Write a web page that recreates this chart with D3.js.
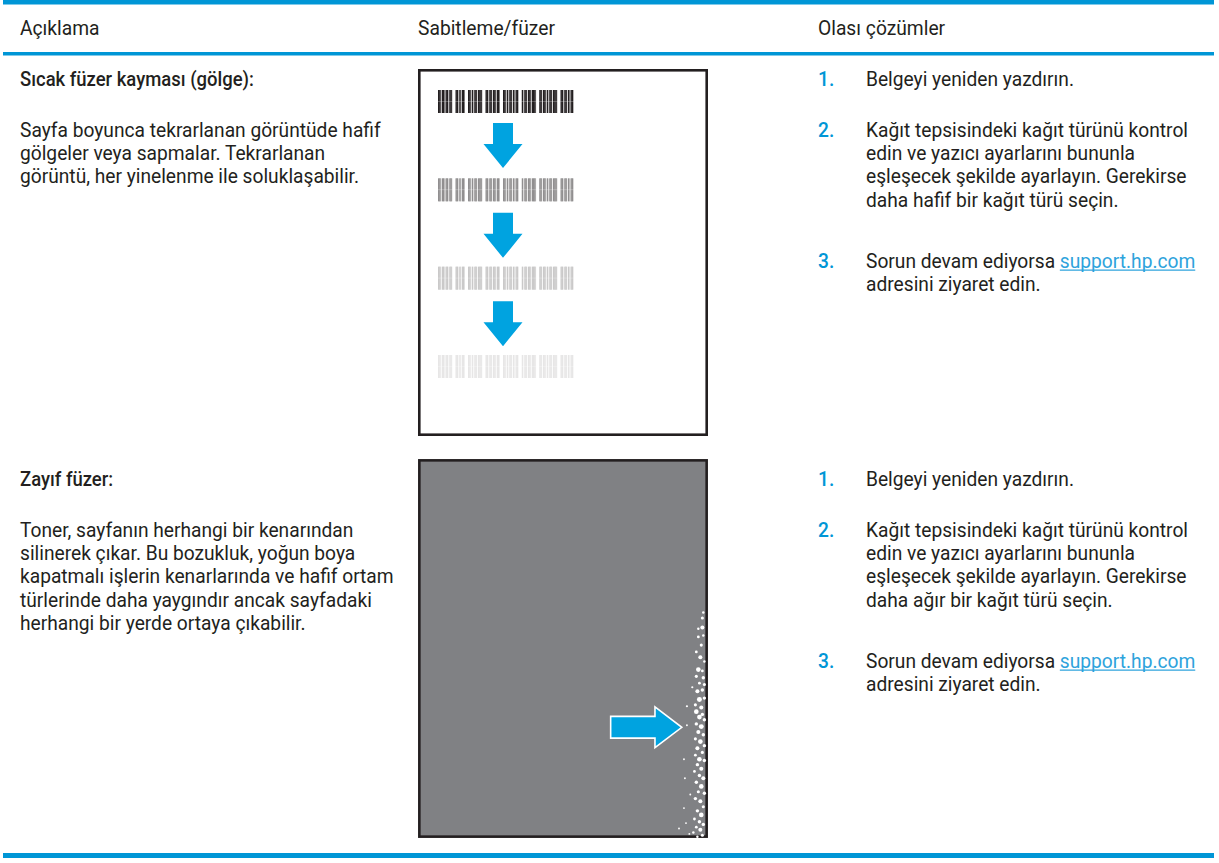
<!DOCTYPE html>
<html><head><meta charset="utf-8">
<script src="https://cdn.jsdelivr.net/npm/d3@7"></script>
<style>html,body{margin:0;padding:0;background:#fff;} text{white-space:pre;}</style>
</head><body>
<svg id="chart"></svg>
<script>
// ---------- data ----------
const headers = ["Açıklama", "Sabitleme/füzer", "Olası çözümler"];
const rowTitles = ["Sıcak füzer kayması (gölge):", "Zayıf füzer:"];
const rowDescriptions = [
  ["Sayfa boyunca tekrarlanan görüntüde hafif", "gölgeler veya sapmalar. Tekrarlanan", "görüntü, her yinelenme ile soluklaşabilir."],
  ["Toner, sayfanın herhangi bir kenarından", "silinerek çıkar. Bu bozukluk, yoğun boya", "kapatmalı işlerin kenarlarında ve hafif ortam", "türlerinde daha yaygındır ancak sayfadaki", "herhangi bir yerde ortaya çıkabilir."]
];
const solutionsRow1 = [
  ["Belgeyi yeniden yazdırın."],
  ["Kağıt tepsisindeki kağıt türünü kontrol", "edin ve yazıcı ayarlarını bununla", "eşleşecek şekilde ayarlayın. Gerekirse", "daha hafif bir kağıt türü seçin."],
  ["Sorun devam ediyorsa |support.hp.com", "adresini ziyaret edin."]
];
const solutionsRow2 = [
  ["Belgeyi yeniden yazdırın."],
  ["Kağıt tepsisindeki kağıt türünü kontrol", "edin ve yazıcı ayarlarını bununla", "eşleşecek şekilde ayarlayın. Gerekirse", "daha ağır bir kağıt türü seçin."],
  ["Sorun devam ediyorsa |support.hp.com", "adresini ziyaret edin."]
];
const solutions = [solutionsRow1, solutionsRow2];
// barcode groups (1 = bar module) and fade level of each repeated image
const barcodeGroups = ["11011011011", "1101011", "11010110111", "11011011011", "110101101011", "10110110111", "11011010110111", "1101101011"];
const barcodeFade = [1.0, 0.5, 0.24, 0.11];
// white speckles on the weak-fuser page: [mm from left, mm from top, radius]
const speckles = [
 [212.5,113,0.8],[211.8,117,1.0],[211.8,124,1.3],[208.8,125,0.8],[208.8,131,0.9],[212.5,130,0.8],[211,137,1.0],[207.3,142,0.9],
 [210.3,146,1.3],[213.3,149,0.8],[208.8,155,1.5],[211.8,156,0.9],[207.3,160,1.0],[212.5,161,1.1],[209.6,165,0.9],[213.3,166,1.0],
 [204.3,168,0.7],[211.8,170,1.1],[208.1,171,1.3],[209.6,177,1.6],[213.3,176,1.1],[206.6,181,1.0],[211,183,1.3],[207.3,186,1.5],
 [211.8,188,1.1],[200.3,182,0.7],[209.6,190,1.5],[213.3,192,1.1],[207.3,195,1.1],[211,197,1.6],[200.3,196,0.6],[208.8,201,1.3],
 [212.5,203,1.1],[206.6,206,1.0],[210.3,208,1.5],[213.3,211,1.1],[208.1,213,1.3],[211.8,216,1.0],[206.6,218,0.9],[209.6,221,1.5],
 [198.1,221,0.6],[213.3,222,1.1],[208.1,225,1.1],[211,228,1.3],[205.9,230,0.9],[209.6,233,1.1],[212.5,235,1.3],[198.8,235,0.6],
 [207.3,238,1.1],[211,241,1.5],[208.8,245,1.0],[202.8,247,0.6],[213.3,246,1.1],[206.6,250,1.1],[210.3,252,1.3],[212.5,256,1.0],
 [198.1,257,0.6],[208.1,259,1.1],[211,262,1.5],[205.9,265,0.9],[209.6,267,1.1],[199.6,268,0.6],[212.5,269,1.1],[207.3,271,0.9],
 [194.4,272,0.6],[210.3,273,1.3],[205.1,275,0.8],[211.8,277,1.0],[208.1,278,0.8],[202.1,276,0.6]
];

// ---------- setup ----------
const W = 1219, H = 863;
const FONT = "Roboto, 'Noto Sans', sans-serif";
const BLUE = "#0096d6", TEXT = "#231f20", LINK = "#2ea3dc";
const svg = d3.select("#chart").attr("width", W).attr("height", H)
  .attr("font-family", FONT);

function measure(sample, size, weight) {
  const t = svg.append("text").attr("font-size", size).attr("font-weight", weight).text(sample);
  const w = t.node().getComputedTextLength(); t.remove();
  return w;
}
const BODY = 19.5, HEAD = 19.5, TITLE = 19.5;
const bodySX = 361 / measure(rowDescriptions[0][0], BODY, 400);
const headSX = 137 / measure(headers[1], HEAD, 400);
const titleSX = 234 / measure(rowTitles[0], TITLE, 500);
const LH = 23.2;

function addText(x, y, str, size, weight, fill, sx) {
  return svg.append("text").attr("transform", `translate(${x},${y}) scale(${sx},1)`)
    .attr("font-size", size).attr("font-weight", weight).attr("fill", fill).text(str);
}

const colX = d3.scaleOrdinal().domain(headers).range([20, 418, 818]);

// rules
svg.append("rect").attr("x", 3).attr("y", 0).attr("width", 1211).attr("height", 4.5).attr("fill", BLUE);
svg.append("rect").attr("x", 3).attr("y", 52).attr("width", 1211).attr("height", 3.5).attr("fill", BLUE);
svg.append("rect").attr("x", 3).attr("y", 853).attr("width", 1211).attr("height", 5).attr("fill", BLUE);

headers.forEach(h => addText(colX(h), 35, h, HEAD, 400, TEXT, headSX));

const rowY = d3.scaleOrdinal().domain([0, 1]).range([86, 486]);
rowTitles.forEach((title, r) => {
  const y0 = rowY(r);
  addText(colX(headers[0]), y0, title, TITLE, 500, TEXT, titleSX);
  rowDescriptions[r].forEach((d, i) => addText(colX(headers[0]), y0 + 51 + i * LH, d, BODY, 400, TEXT, bodySX));

  let y = y0;
  solutions[r].forEach((lines, k) => {
    if (k > 0) {
      const prev = solutions[r][k - 1];
      y += (prev.length - 1) * LH + (prev.length > 1 ? 61 : 51);
    }
    addText(colX(headers[2]), y, (k + 1) + ".", BODY, 500, BLUE, bodySX);
    lines.forEach((ln, i) => {
      const ly = y + i * LH;
      const parts = ln.split("|");
      const t = addText(866, ly, parts[0], BODY, 400, TEXT, bodySX);
      if (parts.length > 1) {
        const w0 = t.node().getComputedTextLength() * bodySX;
        const lk = addText(866 + w0, ly, parts[1], BODY, 400, LINK, bodySX);
        const w1 = lk.node().getComputedTextLength() * bodySX;
        svg.append("line").attr("x1", 866 + w0).attr("x2", 866 + w0 + w1)
          .attr("y1", ly + 2.5).attr("y2", ly + 2.5).attr("stroke", LINK).attr("stroke-width", 1.1);
      }
    });
  });
});

// ---------- illustration 1: repeating ghost barcodes ----------
const p1x = d3.scaleLinear().domain([0, 290]).range([418, 708]);
const p1y = d3.scaleLinear().domain([0, 367]).range([69, 436]);
const g1 = svg.append("g");
g1.append("rect").attr("x", p1x(1.3)).attr("y", p1y(1.3)).attr("width", p1x(288.7) - p1x(1.3))
  .attr("height", p1y(365.7) - p1y(1.3)).attr("fill", "#fff").attr("stroke", TEXT).attr("stroke-width", 2.6);

const barcodeString = barcodeGroups.join("000");
const modules = barcodeString.split("").map((m, i) => ({ m: +m, i })).filter(d => d.m);
const modX = d3.scaleLinear().domain([0, barcodeString.length]).range([20, 155]);
const modW = modX(1) - modX(0);
const bcRow = d3.scaleLinear().domain([0, 3]).range([21, 286]);
const fadeColor = d3.scaleLinear().domain([0, 1]).range(["#ffffff", TEXT]);
barcodeFade.forEach((f, r) => {
  const top = bcRow(r);
  const gb = g1.append("g");
  gb.selectAll("rect.gh").data(modules).join("rect").attr("class", "gh")
    .attr("x", d => p1x(modX(d.i) + modW * 0.5)).attr("y", p1y(top))
    .attr("width", modW).attr("height", p1y(top + 23) - p1y(top))
    .attr("fill", fadeColor(f * 0.45));
  gb.selectAll("rect.bar").data(modules).join("rect").attr("class", "bar")
    .attr("x", d => p1x(modX(d.i))).attr("y", p1y(top))
    .attr("width", modW + 0.05).attr("height", p1y(top + 23) - p1y(top))
    .attr("fill", fadeColor(f));
  gb.append("rect").attr("x", p1x(20)).attr("y", p1y(top + 11)).attr("width", p1x(156) - p1x(20))
    .attr("height", 0.8).attr("fill", "#fff").attr("opacity", 0.3);
});
const arrowRows = d3.range(3);
const arrowPath = (cx, top) => {
  const p = d3.path();
  p.moveTo(cx - 10, top); p.lineTo(cx + 10, top); p.lineTo(cx + 10, top + 21);
  p.lineTo(cx + 19.5, top + 21); p.lineTo(cx, top + 45); p.lineTo(cx - 19.5, top + 21);
  p.lineTo(cx - 10, top + 21); p.closePath(); return p.toString();
};
g1.selectAll("path.arrow").data(arrowRows).join("path").attr("class", "arrow")
  .attr("d", i => arrowPath(p1x(85), p1y(bcRow(i) + 33 + (i ? 1.5 : 0))))
  .attr("fill", "#00a3e0");

// ---------- illustration 2: weak fuser gray page ----------
const p2x = d3.scaleLinear().domain([0, 216]).range([418, 708]);
const p2y = d3.scaleLinear().domain([0, 279]).range([459, 838]);
const g2 = svg.append("g");
g2.append("rect").attr("x", p2x(1)).attr("y", p2y(1)).attr("width", p2x(215) - p2x(1))
  .attr("height", p2y(278) - p2y(1)).attr("fill", "#808184").attr("stroke", TEXT).attr("stroke-width", 2.6);
g2.selectAll("circle").data(speckles).join("circle")
  .attr("cx", d => p2x(d[0])).attr("cy", d => p2y(d[1])).attr("r", d => d[2] * 1.55)
  .attr("fill", "#fff");
const ra = d3.path();
const ax = v => p2x(v), ay = v => p2y(v);
ra.moveTo(ax(143.5), ay(189.5)); ra.lineTo(ax(176.5), ay(189.5)); ra.lineTo(ax(176.5), ay(182.5));
ra.lineTo(ax(196.5), ay(197.5)); ra.lineTo(ax(176.5), ay(212.5)); ra.lineTo(ax(176.5), ay(205.5));
ra.lineTo(ax(143.5), ay(205.5)); ra.closePath();
g2.append("path").attr("d", ra.toString()).attr("fill", "#00a3e0").attr("stroke", "#fff")
  .attr("stroke-width", 1.6).attr("stroke-linejoin", "miter");
</script>
</body></html>
